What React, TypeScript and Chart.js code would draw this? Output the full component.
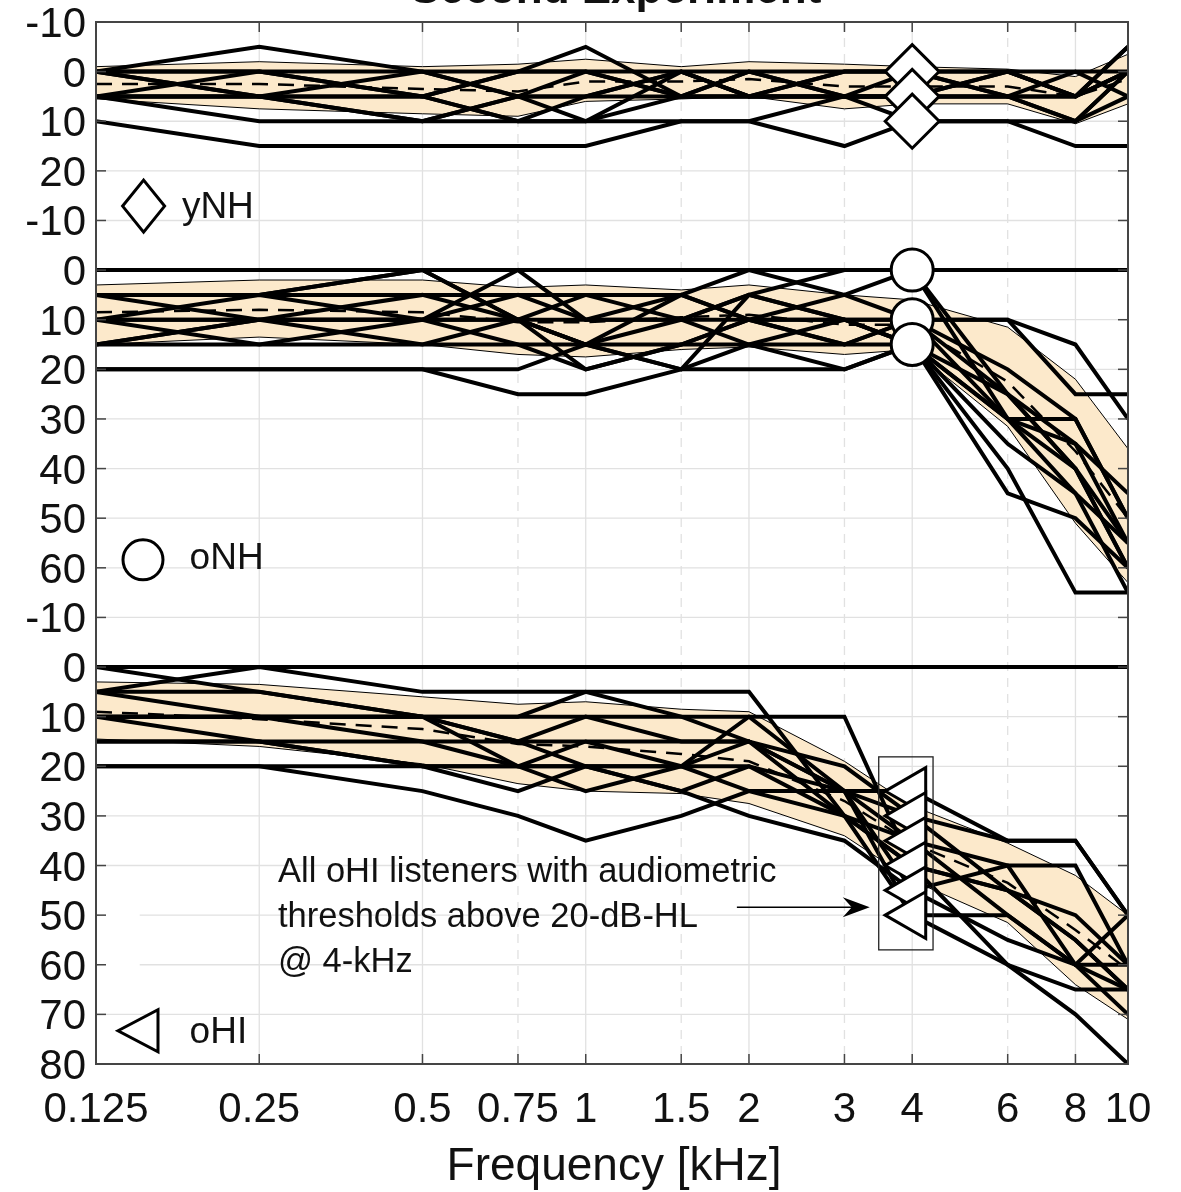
import React, { useEffect, useRef } from "react";
import { Chart, registerables } from "chart.js";

Chart.register(...registerables);

// ---------------- axes ----------------
const FREQS = [0.125, 0.25, 0.5, 0.75, 1, 1.5, 2, 3, 4, 6, 8, 10];
const FREQ_LABELS = ["0.125", "0.25", "0.5", "0.75", "1", "1.5", "2", "3", "4", "6", "8", "10"];
const DASHED_FREQS = [0.75, 1.5, 3, 6];
// one continuous (reversed) y axis holding three stacked panels
const Y_TICK_VALUES = [-10, 0, 10, 20, 30, 40, 50, 60, 70, 80, 90, 100, 110, 120, 130, 140, 150, 160, 170, 180, 190, 200];
const Y_TICK_LABELS = ["-10", "0", "10", "20", "-10", "0", "10", "20", "30", "40", "50", "60", "-10", "0", "10", "20", "30", "40", "50", "60", "70", "80"];
const OFFSET_YNH = 0;
const OFFSET_ONH = 40;
const OFFSET_OHI = 120;
const ZERO_LINE = [0, 0, 0, 0, 0, 0, 0, 0, 0, 0, 0, 0];
const MARKER_FREQ = 4;

// ---------------- yNH ----------------
const YNH_LISTENERS = [
  [0, -5, 0, 5, 5, 0, 5, 0, 0, 5, 5, -5],
  [10, 15, 15, 15, 15, 10, 10, 15, 10, 10, 15, 15],
  [5, 10, 10, 10, 10, 10, 10, 5, 10, 10, 10, 5],
  [5, 0, 5, 0, -5, 5, 5, 5, 5, 0, 5, 0],
  [5, 5, 10, 5, 0, 5, 5, 5, 5, 5, 10, 0],
  [0, 5, 5, 10, 10, 0, 5, 0, 0, 0, 5, 0],
  [5, 5, 0, 5, 10, 5, 0, 5, 5, 5, 0, 5],
  [0, 0, 5, 0, 0, 5, 5, 5, 5, 5, 10, 0],
  [5, 5, 5, 10, 5, 5, 0, 5, 5, 0, 5, 0],
  [0, 5, 10, 5, 5, 0, 5, 5, 0, 5, 5, -5],
];
const YNH_MEAN = [2.5, 2.5, 3.5, 4, 2, 2, 1.5, 3, 3, 3, 5, 1.5];
const YNH_LOW = [-1, -2, -1, -1.5, -2.5, -1, -2, -1.5, -1, -0.5, 1, -3.5];
const YNH_HIGH = [5.5, 7.5, 8.5, 9, 6, 5.5, 5, 7.5, 6.5, 6.5, 10.5, 6.5];
const YNH_MARKERS = [0, 5, 10];

// ---------------- oNH ----------------
const ONH_LISTENERS = [
  [20, 20, 20, 25, 25, 20, 15, 20, 15, 40, 65, 65],
  [20, 20, 20, 20, 15, 20, 20, 20, 15, 45, 50, 60],
  [15, 15, 15, 15, 20, 15, 10, 15, 15, 30, 35, 55],
  [15, 10, 5, 10, 15, 5, 10, 15, 10, 10, 15, 30],
  [10, 10, 10, 5, 10, 10, 5, 10, 15, 30, 30, 50],
  [5, 10, 10, 15, 15, 10, 15, 15, 10, 30, 40, 60],
  [10, 5, 10, 10, 5, 5, 0, 5, 0, 30, 45, 55],
  [5, 5, 0, 10, 20, 15, 10, 5, 10, 10, 25, 25],
  [10, 15, 10, 0, 10, 5, 10, 10, 15, 25, 40, 60],
  [5, 5, 5, 5, 5, 10, 5, 10, 10, 20, 30, 50],
  [15, 10, 15, 10, 15, 15, 15, 10, 15, 35, 45, 65],
  [10, 10, 10, 10, 10, 10, 10, 10, 10, 25, 35, 45],
  [5, 5, 0, 10, 15, 20, 5, 0, 0, 25, 40, 55],
];
const ONH_MEAN = [8.5, 8, 8.5, 10.5, 10.5, 9.5, 9, 11, 11, 22.5, 36.5, 50];
const ONH_LOW = [3, 2, 2, 3.5, 3, 4, 3, 5, 6, 11.5, 22, 36];
const ONH_HIGH = [15, 13.5, 15, 17, 17.5, 16, 15.5, 17, 16, 31.5, 51, 63];
const ONH_MARKERS = [0, 10, 15];

// ---------------- oHI ----------------
const OHI_LISTENERS = [
  [5, 0, 5, 5, 5, 5, 5, 30, 40, 45, 50, 60],
  [0, 5, 10, 10, 10, 10, 10, 10, 40, 45, 55, 65],
  [10, 10, 10, 15, 20, 20, 10, 25, 30, 35, 35, 50],
  [20, 20, 25, 30, 35, 30, 25, 30, 35, 50, 60, 65],
  [20, 20, 20, 20, 20, 20, 20, 30, 50, 60, 70, 80],
  [5, 5, 10, 10, 5, 10, 15, 25, 25, 35, 35, 50],
  [10, 15, 20, 25, 20, 25, 30, 35, 45, 40, 40, 60],
  [10, 10, 10, 20, 25, 20, 15, 20, 30, 45, 55, 65],
  [15, 15, 15, 15, 15, 15, 15, 25, 35, 40, 60, 60],
  [5, 10, 15, 20, 15, 20, 25, 25, 45, 55, 60, 50],
  [10, 10, 10, 15, 10, 15, 15, 30, 40, 60, 65, 65],
  [15, 15, 20, 20, 20, 25, 20, 25, 50, 50, 60, 70],
];
const OHI_MEAN = [9, 10.5, 12.5, 15.5, 16, 17.5, 19, 27, 35.5, 43.5, 53, 61];
const OHI_LOW = [3, 3.5, 6, 7.5, 7, 8.5, 9, 19, 28, 35.5, 42, 50];
const OHI_HIGH = [14.5, 16, 19.5, 23.5, 25, 25.5, 27.5, 34, 43, 51.5, 64, 71];
const OHI_MARKERS = [25, 30, 35, 40, 45, 50];

// ---------------- texts ----------------
const TITLE = "Second Experiment";
const X_TITLE = "Frequency [kHz]";
const LEGEND_NAMES = ["yNH", "oNH", "oHI"];
const ANNOT_LINES = ["All oHI listeners with audiometric", "thresholds above 20-dB-HL", "@ 4-kHz"];

const FONT = '"Liberation Sans", Arial, Helvetica, sans-serif';
const BAND_COLOR = "rgb(252, 233, 203)";
const AXIS_COLOR = "#454545";
const GRID_COLOR = "#e1e1e1";
const TEXT_COLOR = "#111111";

function pts(vals: number[], off: number) {
  return vals.map((v, i) => ({ x: FREQS[i], y: v + off }));
}

function panelDatasets(
  listeners: number[][],
  mean: number[],
  low: number[],
  high: number[],
  markers: number[],
  off: number,
  marker: { style: string; radius: number; rotation: number }
) {
  const ds: any[] = [
    { data: pts(low, off), borderColor: "#000", borderWidth: 1, pointRadius: 0, fill: false, order: 10 },
    { data: pts(high, off), borderColor: "#000", borderWidth: 1, pointRadius: 0, fill: "-1", backgroundColor: BAND_COLOR, order: 10 },
    { data: pts(mean, off), borderColor: "#000", borderWidth: 2.5, borderDash: [16, 10], pointRadius: 0, fill: false, order: 5 },
    { data: pts(ZERO_LINE, off), borderColor: "#000", borderWidth: 4, pointRadius: 0, fill: false, order: 2 },
  ];
  listeners.forEach((l) =>
    ds.push({ data: pts(l, off), borderColor: "#000", borderWidth: 4, pointRadius: 0, fill: false, order: 1 })
  );
  ds.push({
    data: markers.map((v) => ({ x: MARKER_FREQ, y: v + off })),
    showLine: false,
    pointStyle: marker.style,
    pointRadius: marker.radius,
    pointRotation: marker.rotation,
    pointBorderWidth: 3,
    pointBorderColor: "#000",
    pointBackgroundColor: "#fff",
    order: 0,
  });
  return ds;
}

const framePlugin = {
  id: "frame",
  beforeDatasetsDraw(chart: any) {
    const { ctx, chartArea: a, scales } = chart;
    const x = scales.x;
    const y = scales.y;
    ctx.save();
    ctx.lineWidth = 1.3;
    ctx.strokeStyle = GRID_COLOR;
    FREQS.forEach((f) => {
      const px = x.getPixelForValue(f);
      ctx.setLineDash(DASHED_FREQS.includes(f) ? [9, 7] : []);
      ctx.beginPath();
      ctx.moveTo(px, a.top);
      ctx.lineTo(px, a.bottom);
      ctx.stroke();
    });
    ctx.setLineDash([]);
    Y_TICK_VALUES.forEach((u) => {
      const py = y.getPixelForValue(u);
      ctx.beginPath();
      ctx.moveTo(a.left, py);
      ctx.lineTo(a.right, py);
      ctx.stroke();
    });
    // blank legend patch in the lower panel (hides grid there)
    const px1 = x.getPixelForValue(0.1265);
    const px2 = x.getPixelForValue(0.1505);
    const py1 = y.getPixelForValue(45 + OFFSET_OHI);
    const py2 = y.getPixelForValue(65 + OFFSET_OHI);
    ctx.fillStyle = "#fff";
    ctx.fillRect(px1, py1, px2 - px1, py2 - py1);
    ctx.restore();
  },
  afterDatasetsDraw(chart: any) {
    const { ctx, chartArea: a, scales } = chart;
    const x = scales.x;
    const y = scales.y;
    const line = (x1: number, y1: number, x2: number, y2: number) => {
      ctx.beginPath();
      ctx.moveTo(x1, y1);
      ctx.lineTo(x2, y2);
      ctx.stroke();
    };
    ctx.save();
    // box + ticks
    ctx.strokeStyle = AXIS_COLOR;
    ctx.lineWidth = 2;
    ctx.strokeRect(a.left, a.top, a.right - a.left, a.bottom - a.top);
    ctx.lineWidth = 1.5;
    const TICK = 10;
    FREQS.forEach((f) => {
      const px = x.getPixelForValue(f);
      line(px, a.top, px, a.top + TICK);
      line(px, a.bottom, px, a.bottom - TICK);
    });
    Y_TICK_VALUES.forEach((u) => {
      const py = y.getPixelForValue(u);
      line(a.left, py, a.left + TICK, py);
      line(a.right, py, a.right - TICK, py);
    });

    // tick labels
    ctx.fillStyle = TEXT_COLOR;
    ctx.font = `42px ${FONT}`;
    ctx.textAlign = "right";
    ctx.textBaseline = "alphabetic";
    Y_TICK_VALUES.forEach((u, i) => {
      ctx.fillText(Y_TICK_LABELS[i], a.left - 10, y.getPixelForValue(u) + 15);
    });
    ctx.textAlign = "center";
    FREQS.forEach((f, i) => {
      ctx.fillText(FREQ_LABELS[i], x.getPixelForValue(f), a.bottom + 58);
    });
    ctx.font = `46px ${FONT}`;
    ctx.fillText(X_TITLE, (a.left + a.right) / 2 + 2, a.bottom + 116);

    // title (mostly above the page)
    ctx.font = `bold 44px ${FONT}`;
    ctx.fillText(TITLE, (a.left + a.right) / 2 + 4, 3);

    // legend markers + names
    ctx.strokeStyle = "#000";
    ctx.fillStyle = "#fff";
    ctx.lineWidth = 3;
    // diamond
    {
      const cx = x.getPixelForValue(0.153);
      const cy = y.getPixelForValue(27.1 + OFFSET_YNH);
      ctx.beginPath();
      ctx.moveTo(cx, cy - 26);
      ctx.lineTo(cx + 21, cy);
      ctx.lineTo(cx, cy + 26);
      ctx.lineTo(cx - 21, cy);
      ctx.closePath();
      ctx.fill();
      ctx.stroke();
    }
    // circle
    {
      const cx = x.getPixelForValue(0.1526);
      const cy = y.getPixelForValue(58.4 + OFFSET_ONH);
      ctx.beginPath();
      ctx.arc(cx, cy, 20, 0, Math.PI * 2);
      ctx.fill();
      ctx.stroke();
    }
    // left triangle
    {
      const cx = x.getPixelForValue(0.1494);
      const cy = y.getPixelForValue(73.3 + OFFSET_OHI);
      ctx.beginPath();
      ctx.moveTo(cx - 20, cy);
      ctx.lineTo(cx + 20, cy - 21);
      ctx.lineTo(cx + 20, cy + 21);
      ctx.closePath();
      ctx.fill();
      ctx.stroke();
    }
    ctx.fillStyle = TEXT_COLOR;
    ctx.font = `37px ${FONT}`;
    ctx.textAlign = "left";
    ctx.fillText(LEGEND_NAMES[0], x.getPixelForValue(0.18), y.getPixelForValue(29.5 + OFFSET_YNH));
    ctx.fillText(LEGEND_NAMES[1], x.getPixelForValue(0.186), y.getPixelForValue(60.2 + OFFSET_ONH));
    ctx.fillText(LEGEND_NAMES[2], x.getPixelForValue(0.186), y.getPixelForValue(75.8 + OFFSET_OHI));

    // annotation text
    ctx.font = `34.5px ${FONT}`;
    const annotV = [43.3, 52.4, 61.5];
    ANNOT_LINES.forEach((t, i) => {
      ctx.fillText(t, x.getPixelForValue(0.2707), y.getPixelForValue(annotV[i] + OFFSET_OHI));
    });

    // arrow
    const ax1 = x.getPixelForValue(1.9);
    const ax2 = x.getPixelForValue(3.34);
    const ay = y.getPixelForValue(48.4 + OFFSET_OHI);
    ctx.strokeStyle = "#000";
    ctx.lineWidth = 1.5;
    line(ax1, ay, ax2 - 12, ay);
    ctx.fillStyle = "#000";
    ctx.beginPath();
    ctx.moveTo(ax2, ay);
    ctx.lineTo(ax2 - 27, ay - 10);
    ctx.lineTo(ax2 - 18, ay);
    ctx.lineTo(ax2 - 27, ay + 10);
    ctx.closePath();
    ctx.fill();

    // box around the 4-kHz markers
    const bx1 = x.getPixelForValue(3.47);
    const bx2 = x.getPixelForValue(4.37);
    const by1 = y.getPixelForValue(18.1 + OFFSET_OHI);
    const by2 = y.getPixelForValue(57 + OFFSET_OHI);
    ctx.lineWidth = 1.3;
    ctx.strokeStyle = "#222";
    ctx.strokeRect(bx1, by1, bx2 - bx1, by2 - by1);

    ctx.restore();
  },
};

export default function App() {
  const ref = useRef<HTMLCanvasElement | null>(null);
  useEffect(() => {
    if (!ref.current) return;
    const datasets = [
      ...panelDatasets(YNH_LISTENERS, YNH_MEAN, YNH_LOW, YNH_HIGH, YNH_MARKERS, OFFSET_YNH, { style: "rectRot", radius: 27, rotation: 0 }),
      ...panelDatasets(ONH_LISTENERS, ONH_MEAN, ONH_LOW, ONH_HIGH, ONH_MARKERS, OFFSET_ONH, { style: "circle", radius: 21, rotation: 0 }),
      ...panelDatasets(OHI_LISTENERS, OHI_MEAN, OHI_LOW, OHI_HIGH, OHI_MARKERS, OFFSET_OHI, { style: "triangle", radius: 27, rotation: -90 }),
    ];
    const chart = new Chart(ref.current, {
      type: "line",
      data: { datasets },
      options: {
        animation: false,
        responsive: false,
        devicePixelRatio: 1,
        events: [],
        layout: { autoPadding: false, padding: { left: 96, top: 22, right: 53, bottom: 128 } },
        plugins: { legend: { display: false }, tooltip: { enabled: false }, title: { display: false } },
        elements: { line: { tension: 0, borderJoinStyle: "miter", borderCapStyle: "butt" } },
        scales: {
          x: { type: "logarithmic", min: 0.125, max: 10, display: false, bounds: "data" },
          y: { type: "linear", min: -10, max: 200, reverse: true, display: false },
        },
      } as any,
      plugins: [framePlugin],
    } as any);
    return () => chart.destroy();
  }, []);
  return (
    <div style={{ position: "absolute", left: 0, top: 0, width: 1181, height: 1192, background: "#fff" }}>
      <canvas ref={ref} width={1181} height={1192} style={{ display: "block", width: 1181, height: 1192 }} />
    </div>
  );
}
